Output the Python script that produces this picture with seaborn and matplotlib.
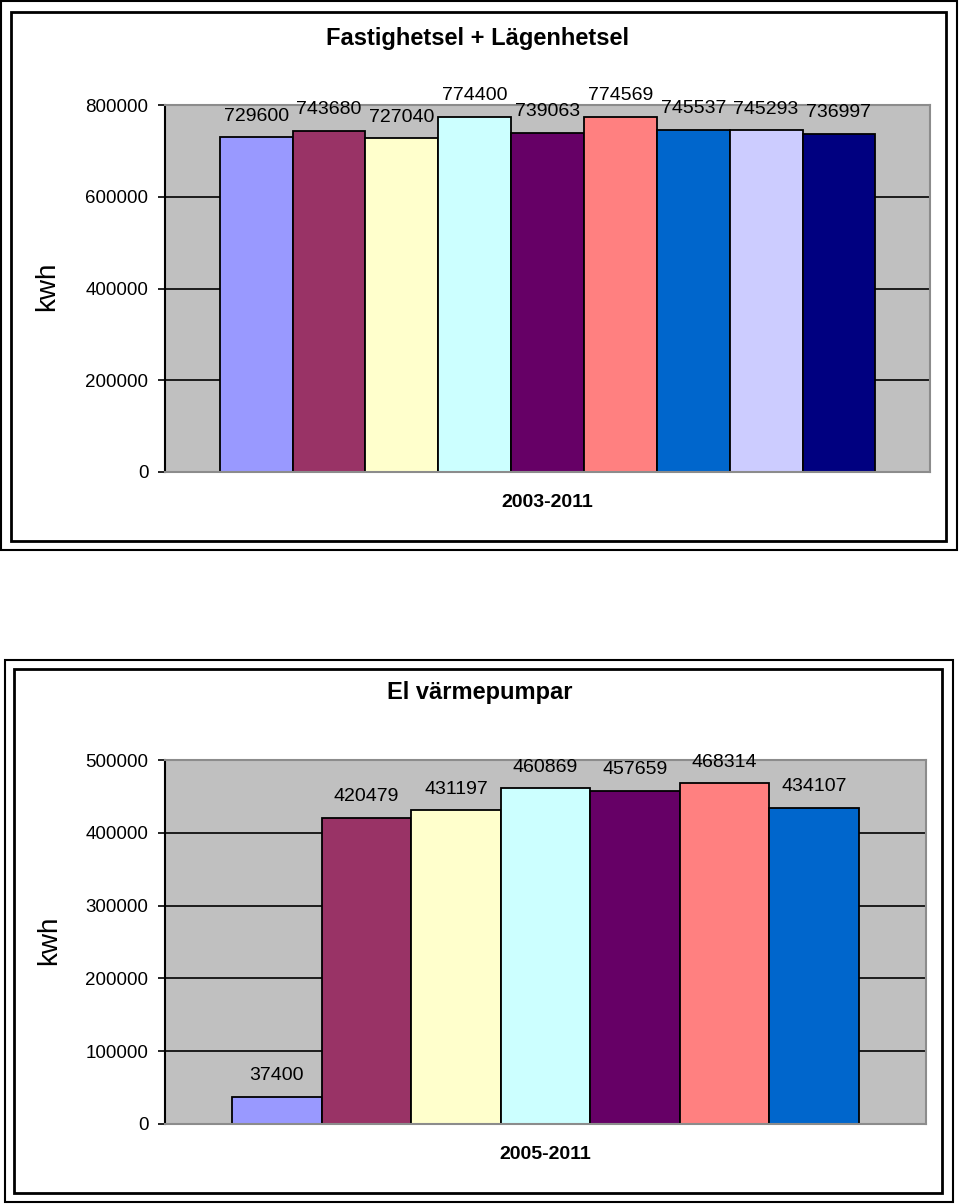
import matplotlib
matplotlib.use("Agg")
import matplotlib.pyplot as plt
import matplotlib.patches as mpatches
import seaborn as sns
import pandas as pd

# ---------------- data ----------------
top_title = "Fastighetsel + Lägenhetsel"
top_category = "2003-2011"
top_years = ["2003", "2004", "2005", "2006", "2007", "2008", "2009", "2010", "2011"]
top_values = [729600, 743680, 727040, 774400, 739063, 774569, 745537, 745293, 736997]
top_yticks = [0, 200000, 400000, 600000, 800000]

bottom_title = "El värmepumpar"
bottom_category = "2005-2011"
bottom_years = ["2005", "2006", "2007", "2008", "2009", "2010", "2011"]
bottom_values = [37400, 420479, 431197, 460869, 457659, 468314, 434107]
bottom_yticks = [0, 100000, 200000, 300000, 400000, 500000]

y_label = "kwh"
colors = ["#9999FF", "#993366", "#FFFFCC", "#CCFFFF", "#660066",
          "#FF8080", "#0066CC", "#CCCCFF", "#000080"]

# ---------------- style ----------------
sns.set_theme(style="white")
plt.rcParams["font.family"] = ["Liberation Sans", "DejaVu Sans"]

W, H = 960, 1204
fig = plt.figure(figsize=(W / 100, H / 100), dpi=100)


def px_rect(x0, y0, x1, y1):
    """pixel box (top-left origin) -> figure fraction [l, b, w, h]"""
    return [x0 / W, 1 - y1 / H, (x1 - x0) / W, (y1 - y0) / H]


def frame(x0, y0, x1, y1, lw):
    l, b, w, h = px_rect(x0, y0, x1, y1)
    fig.patches.append(mpatches.Rectangle((l, b), w, h, transform=fig.transFigure,
                                          fill=False, edgecolor="black", linewidth=lw))


def draw_chart(rect, category, years, values, yticks, ylab_xy):
    ax = fig.add_axes(px_rect(*rect))
    df = pd.DataFrame({"cat": [category] * len(years), "year": years, "value": values})
    n = len(years)
    sns.barplot(data=df, x="cat", y="value", hue="year", hue_order=years,
                palette=colors[:n], saturation=1, width=n / (n + 1.5), gap=0,
                edgecolor="black", linewidth=1.3, legend=False, ax=ax, zorder=3)
    ax.set_facecolor("#C0C0C0")
    ax.set_ylim(yticks[0], yticks[-1])
    ax.set_yticks(yticks)
    ax.set_yticklabels([str(t) for t in yticks])
    ax.set_axisbelow(True)
    ax.yaxis.grid(True, color="black", linewidth=1.2)
    ax.xaxis.grid(False)
    for s in ["top", "right", "bottom"]:
        ax.spines[s].set_color("#8C8C8C")
        ax.spines[s].set_linewidth(1.5)
        ax.spines[s].set_zorder(4)
    ax.spines["left"].set_color("black")
    ax.spines["left"].set_linewidth(1.5)
    ax.tick_params(axis="y", left=True, length=5, width=1.2, color="black",
                   labelsize=13.5, pad=7, labelcolor="black")
    ax.tick_params(axis="x", length=0, pad=16, labelsize=14, labelcolor="black")
    for lab in ax.get_xticklabels():
        lab.set_fontweight("bold")
    ax.set_xlabel("")
    ax.set_ylabel(y_label, fontsize=20, color="black")
    ax.yaxis.set_label_coords(*ylab_xy)
    for cont in ax.containers:
        texts = ax.bar_label(cont, fmt="%d", padding=9, fontsize=14, color="black")
        for t in texts:
            t.set_zorder(6)
    return ax


# top chart
frame(1, 1, 957, 550, 1.5)
frame(11, 12, 946, 541, 2.0)
draw_chart((165, 105, 930, 472), top_category, top_years, top_values, top_yticks,
           (-0.137, 0.507))
fig.text(478 / W, 1 - 38 / H, top_title, ha="center", va="center",
         fontsize=17, fontweight="bold", color="black")

# bottom chart
frame(5, 660, 953, 1202, 1.5)
frame(14, 669, 942, 1193, 2.0)
draw_chart((165, 760, 926, 1124), bottom_category, bottom_years, bottom_values,
           bottom_yticks, (-0.135, 0.505))
fig.text(480 / W, 1 - 692 / H, bottom_title, ha="center", va="center",
         fontsize=17, fontweight="bold", color="black")

fig.savefig("out.png", dpi=100)
